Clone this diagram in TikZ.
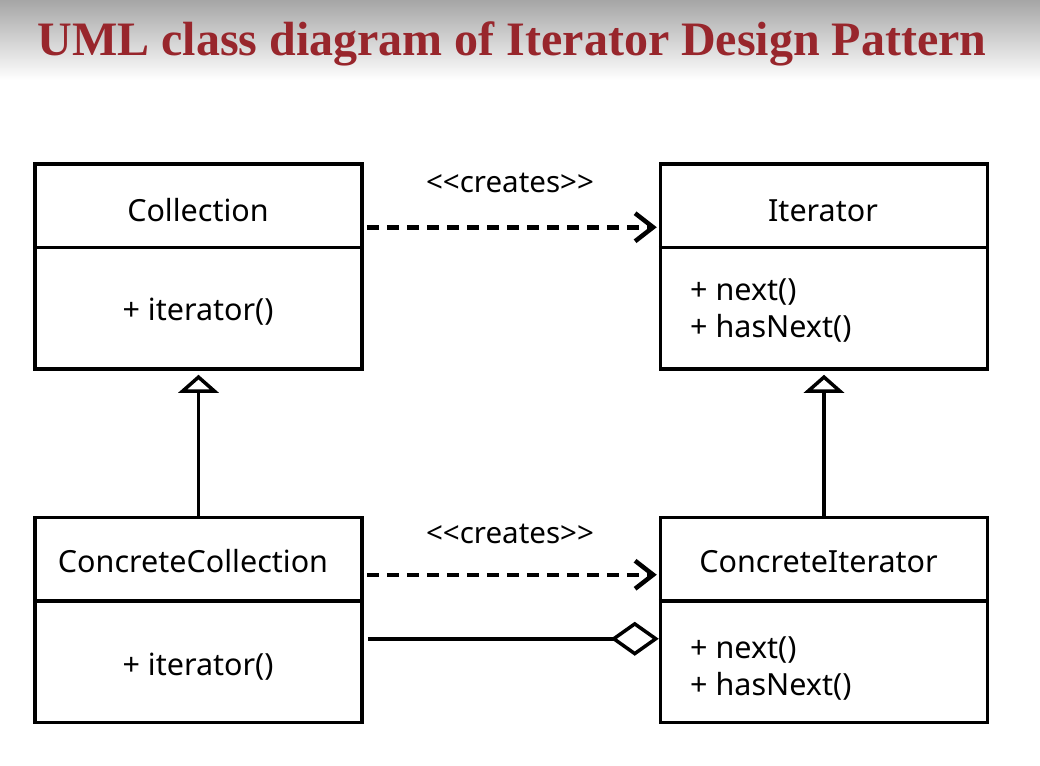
\documentclass[tikz,border=0pt]{standalone}
\usepackage{fontspec}
\setmainfont{Noto Sans}
\newfontfamily\titlefont{Liberation Serif}
\usetikzlibrary{arrows.meta,calc}
\definecolor{titlered}{RGB}{152,38,44}
\begin{document}
\begin{tikzpicture}[x=1pt,y=-1pt,
  classbox/.style={draw, line width=3.5pt, minimum width=327pt, minimum height=205pt, inner sep=0pt},
  ctitle/.style={anchor=base, font=\fontsize{30.5}{36}\selectfont, inner sep=0pt},
  member/.style={anchor=base west, font=\fontsize{30.5}{36}\selectfont, inner sep=0pt},
  cmember/.style={anchor=base, font=\fontsize{30.5}{36}\selectfont, inner sep=0pt},
  stereo/.style={anchor=base, font=\fontsize{29.5}{34}\selectfont, inner sep=0pt},
  dep/.style={line width=4.5pt, dash pattern=on 12pt off 8pt, -{Straight Barb[length=18pt,width=28pt,line width=4.5pt]}},
  inh/.style={line width=3.5pt, -{Triangle[open,length=18pt,width=40pt,line width=3.5pt,fill=white]}},
  agg/.style={line width=3.5pt, -{Diamond[open,length=48pt,width=34pt,line width=3.5pt,fill=white]}},
  divider/.style={line width=3.5pt}
]
\fill[white] (0,0) rectangle (1040,765);
\shade[top color=black!35, bottom color=white] (0,0) rectangle (1040,80);
\useasboundingbox (0,0) rectangle (1040,765);

\node[anchor=base, inner sep=0pt, text=titlered, font=\titlefont\bfseries\fontsize{48}{54}\selectfont] (title) at (512,56) {UML class diagram of Iterator Design Pattern};

% boxes
\node[classbox] (coll) at (198.5,266.5) {};
\node[classbox] (iter) at (824,266.5) {};
\node[classbox] (ccoll) at (198.5,620) {};
\node[classbox] (citer) at (824,620) {};

\draw[divider] ([yshift=-85pt]coll.north west) -- ([yshift=-85pt]coll.north east);
\draw[divider] ([yshift=-85pt]iter.north west) -- ([yshift=-85pt]iter.north east);
\draw[divider] ([yshift=-85pt]ccoll.north west) -- ([yshift=-85pt]ccoll.north east);
\draw[divider] ([yshift=-85pt]citer.north west) -- ([yshift=-85pt]citer.north east);

% texts
\node[ctitle] (colltitle) at (198,221) {Collection};
\node[cmember] (collm) at (198,320) {+ iterator()};
\node[ctitle] (itertitle) at (823,221) {Iterator};
\node[member] (iterm1) at (690,300) {+ next()};
\node[member] (iterm2) at (690,337) {+ hasNext()};
\node[ctitle] (ccolltitle) at (193,572) {ConcreteCollection};
\node[cmember] (ccollm) at (198,675) {+ iterator()};
\node[ctitle] (citertitle) at (818.5,572) {ConcreteIterator};
\node[member] (citerm1) at (690,658) {+ next()};
\node[member] (citerm2) at (690,695) {+ hasNext()};

\node[stereo] (st1) at (510,192) {<{}<creates>{}>};
\node[stereo] (st2) at (510,543) {<{}<creates>{}>};

% connectors
\draw[dep] ([xshift=3pt,yshift=-65pt]coll.north east) -- ([xshift=-2pt,yshift=-65pt]iter.north west);
\draw[dep] ([xshift=3pt,yshift=-59pt]ccoll.north east) -- ([xshift=-2pt,yshift=-59pt]citer.north west);
\draw[inh] (ccoll.north) -- ([yshift=-4pt]coll.south);
\draw[inh] (citer.north) -- ([yshift=-4pt]iter.south);
\draw[agg] ([xshift=4pt,yshift=-123pt]ccoll.north east) -- ([yshift=-123pt]citer.north west);
\end{tikzpicture}
\end{document}
